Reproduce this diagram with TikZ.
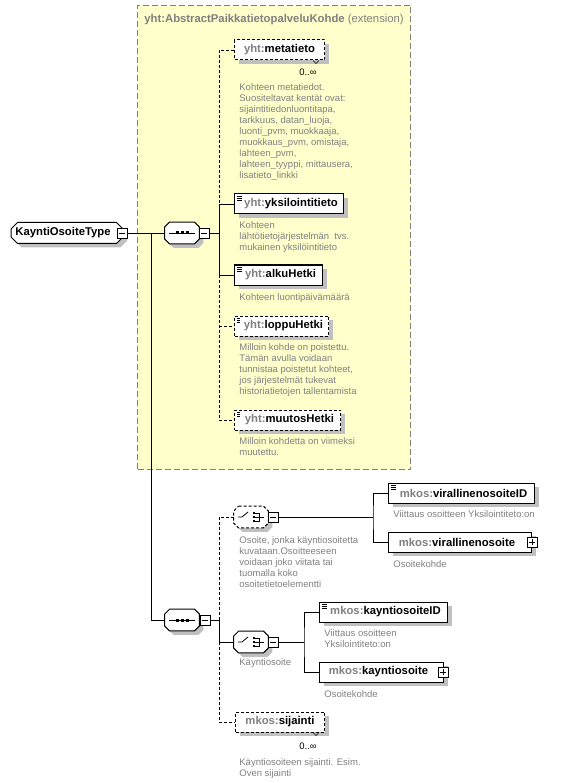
\documentclass[tikz,border=0pt]{standalone}
\usepackage{fontspec}
\setmainfont{Liberation Sans}
\usetikzlibrary{shapes.misc,shadows,calc}

\definecolor{extyellow}{RGB}{255,255,204}
\definecolor{pfxgray}{RGB}{128,128,128}
\definecolor{notegray}{RGB}{128,128,128}
\definecolor{shadegray}{RGB}{192,192,192}

\newcommand\namefont{\fontsize{11.3}{13}\selectfont\bfseries}
\newcommand\notefont{\fontsize{9.5}{11}\selectfont}
\newcommand\multfont{\fontsize{9.5}{11}\selectfont}
\newcommand\yht{{\color{pfxgray}yht:}}
\newcommand\mkos{{\color{pfxgray}mkos:}}

% octagon frame with shadow round a compositor node
\newcommand\compframe[2]{%
  \fill[shadegray] ($(#1.north west)+(9,4)$) -- ($(#1.north east)+(-1,4)$) -- ($(#1.north east)+(4,9)$)
    -- ($(#1.south east)+(4,-1)$) -- ($(#1.south east)+(-1,4)$) -- ($(#1.south west)+(9,4)$)
    -- ($(#1.south west)+(4,-1)$) -- ($(#1.north west)+(4,9)$) -- cycle;
  \filldraw[fill=white, line width=1pt, #2] ($(#1.north west)+(5,0)$) -- ($(#1.north east)+(-5,0)$) -- ($(#1.north east)+(0,5)$)
    -- ($(#1.south east)+(0,-5)$) -- ($(#1.south east)+(-5,0)$) -- ($(#1.south west)+(5,0)$)
    -- ($(#1.south west)+(0,-5)$) -- ($(#1.north west)+(0,5)$) -- cycle;}
\newcommand\seqmark[1]{%
  \begin{scope}[shift={(#1.center)}]
    \draw[line width=0.8pt] (-13,0) -- (13,0);
    \foreach \dx in {-5,0,5}
      \fill[black] (\dx,0) +(-1.5,-1.5) rectangle +(1.5,1.5);
  \end{scope}}
\newcommand\choicemark[1]{%
  \begin{scope}[shift={(#1.center)}]
    \draw[line width=0.8pt] (-13,0) -- (-9,0) -- (-3,-5);
    \foreach \dy in {-4,0,4}
      \fill[black] (3,\dy) +(-1.3,-1.3) rectangle +(1.3,1.3);
    \draw[line width=0.8pt] (4,-4) -- (8,-4) -- (8,4) -- (4,4) (4,0) -- (13,0);
  \end{scope}}

\tikzset{
  boxshadow/.style={drop shadow={shadow xshift=4pt, shadow yshift=-4pt, fill=shadegray, opacity=1}},
  elembox/.style={draw, fill=white, line width=1pt, minimum height=20pt, inner sep=0pt, anchor=west, font=\namefont, boxshadow},
  optline/.style={dash pattern=on 3pt off 2pt},
  simpletype/.style={path picture={
      \foreach \k in {2,4,6}
        \draw[line width=0.7pt] ([shift={(2,\k)}]path picture bounding box.north west) -- ++(5,0);}},
  typebox/.style={chamfered rectangle, chamfered rectangle xsep=3pt, draw, fill=white, line width=1pt, minimum width=112pt, minimum height=21pt, inner sep=0pt, font=\namefont, boxshadow},
  compnode/.style={minimum width=34pt, minimum height=21pt, inner sep=0pt},
  minusbox/.style={draw, fill=white, line width=0.8pt, minimum size=10pt, inner sep=0pt,
      path picture={\draw ([xshift=-3pt]path picture bounding box.center) -- ([xshift=3pt]path picture bounding box.center);}},
  plusbox/.style={draw, fill=white, line width=0.8pt, minimum size=10pt, inner sep=0pt,
      path picture={\draw ([xshift=-3pt]path picture bounding box.center) -- ([xshift=3pt]path picture bounding box.center)
                          ([yshift=-3pt]path picture bounding box.center) -- ([yshift=3pt]path picture bounding box.center);}},
  extbox/.style={draw=pfxgray, fill=extyellow, dash pattern=on 6pt off 3pt, line width=1pt, anchor=north west, inner sep=0pt},
  notetext/.style={anchor=north west, inner sep=0pt, align=left, font=\notefont, text=notegray},
  multlabel/.style={anchor=east, inner sep=0pt, font=\multfont}
}

\begin{document}
\begin{tikzpicture}[x=1pt,y=-1pt,line width=0.8pt]
\useasboundingbox (0,0) rectangle (562,783);

% extension base type
\node (ext) [extbox, minimum width=273pt, minimum height=464pt] at (137,5) {};
\node (exthead) [anchor=base west, inner sep=0pt, font=\namefont, text=pfxgray] at (144,23) {yht:AbstractPaikkatietopalveluKohde \mdseries(extension)};

% root type and first sequence
\node (type) [typebox] at (67,233) {KayntiOsoiteType\hspace*{8pt}};
\node (typeminus) [minusbox] at (122,233) {};
\node (seq1) [compnode] at (182,233) {};
\compframe{seq1}{}
\seqmark{seq1}
\node (seq1minus) [minusbox] at (204,233) {};
\coordinate (trunk) at (151,233);
\coordinate (b1) at (219,233);

% inherited elements
\node (meta) [elembox, optline, minimum width=90pt] at (234,50) {\yht metatieto};
\draw[line width=0.6pt] ([xshift=-12pt]meta.south east) -- ++(3,3) -- ++(3,-3);
\node (metamult) [multlabel] at (317,72) {0..∞};
\node (metanote) [notetext] at (239,83.5) {Kohteen metatiedot.\\Suositeltavat kentät ovat:\\sijaintitiedonluontitapa,\\tarkkuus, datan\_luoja,\\luonti\_pvm, muokkaaja,\\muokkaus\_pvm, omistaja,\\lahteen\_pvm,\\lahteen\_tyyppi, mittausera,\\lisatieto\_linkki};

\node (yks) [elembox, simpletype, minimum width=109pt] at (234,204) {\hspace*{4pt}\yht yksilointitieto};
\node (yksnote) [notetext] at (239,221.5) {Kohteen\\lähtötietojärjestelmän\ \ tvs.\\mukainen yksilöintitieto};

\node (alku) [elembox, simpletype, minimum width=88pt] at (234,275) {\hspace*{4pt}\yht alkuHetki};
\node (alkunote) [notetext] at (239,293.5) {Kohteen luontipäivämäärä};

\node (loppu) [elembox, simpletype, optline, minimum width=94pt] at (234,326) {\hspace*{4pt}\yht loppuHetki};
\node (loppunote) [notetext] at (239,343.5) {Milloin kohde on poistettu.\\Tämän avulla voidaan\\tunnistaa poistetut kohteet,\\jos järjestelmät tukevat\\historiatietojen tallentamista};

\node (muutos) [elembox, simpletype, optline, minimum width=106pt] at (234,420) {\hspace*{4pt}\yht muutosHetki};
\node (muutosnote) [notetext] at (239,437.5) {Milloin kohdetta on viimeksi\\muutettu.};

% second sequence
\node (seq2) [compnode] at (182,620) {};
\compframe{seq2}{}
\seqmark{seq2}
\node (seq2minus) [minusbox] at (205,620) {};
\coordinate (b2) at (219,620);

% first choice
\node (ch1) [compnode] at (251,517) {};
\compframe{ch1}{optline}
\choicemark{ch1}
\node (ch1minus) [minusbox] at (273,517) {};
\node (ch1note) [notetext] at (239,536.5) {Osoite, jonka käyntiosoitetta\\kuvataan.Osoitteeseen\\voidaan joko viitata tai\\tuomalla koko\\osoitetietoelementti};
\coordinate (j1) at (373,517);

\node (vosid) [elembox, simpletype, minimum width=146pt] at (388,493) {\hspace*{4pt}\mkos virallinenosoiteID};
\node (vosidnote) [notetext] at (393,510.5) {Viittaus osoitteen Yksilointiteto:on};
\node (vos) [elembox, minimum width=143pt] at (388,542) {\mkos virallinenosoite\hspace*{6pt}};
\node (vosplus) [plusbox] at (532,542) {};
\node (vosnote) [notetext] at (393,560.5) {Osoitekohde};

% second choice
\node (ch2) [compnode] at (251,642) {};
\compframe{ch2}{}
\choicemark{ch2}
\node (ch2minus) [minusbox] at (273,642) {};
\node (ch2note) [notetext] at (239,658.5) {Käyntiosoite};
\coordinate (j2) at (304,642);

\node (kosid) [elembox, simpletype, minimum width=128pt] at (319,612) {\hspace*{4pt}\mkos kayntiosoiteID};
\node (kosidnote) [notetext] at (324,629.5) {Viittaus osoitteen\\Yksilointiteto:on};
\node (kos) [elembox, minimum width=124pt] at (319,672) {\mkos kayntiosoite\hspace*{6pt}};
\node (kosplus) [plusbox] at (443,672) {};
\node (kosnote) [notetext] at (324,690.5) {Osoitekohde};

% location
\node (sij) [elembox, optline, minimum width=89pt] at (235,722) {\mkos sijainti};
\draw[line width=0.6pt] ([xshift=-12pt]sij.south east) -- ++(3,3) -- ++(3,-3);
\node (sijmult) [multlabel] at (317,746) {0..∞};
\node (sijnote) [notetext] at (239,758.5) {Käyntiosoiteen sijainti. Esim.\\Oven sijainti};

% connectors
\draw (typeminus.east) -- (seq1.west);
\draw (trunk) |- (seq2.west);
\draw (seq1minus.east) -- (b1);
\draw[optline] (meta.west) -| (b1 |- yks.west);
\draw (yks.west) -| (b1 |- alku.west) -- (alku.west);
\draw[optline] (b1 |- alku.west) |- (muutos.west);
\draw[optline] (b1 |- loppu.west) -- (loppu.west);

\draw (seq2minus.east) -- (b2);
\draw[optline] (ch1.west) -| (b2);
\draw (b2) |- (ch2.west);
\draw[optline] (b2 |- ch2.west) |- (sij.west);

\draw (ch1minus.east) -- (j1);
\draw (vosid.west) -| (j1) |- (vos.west);
\draw (ch2minus.east) -- (j2);
\draw (kosid.west) -| (j2) |- (kos.west);
\end{tikzpicture}
\end{document}
